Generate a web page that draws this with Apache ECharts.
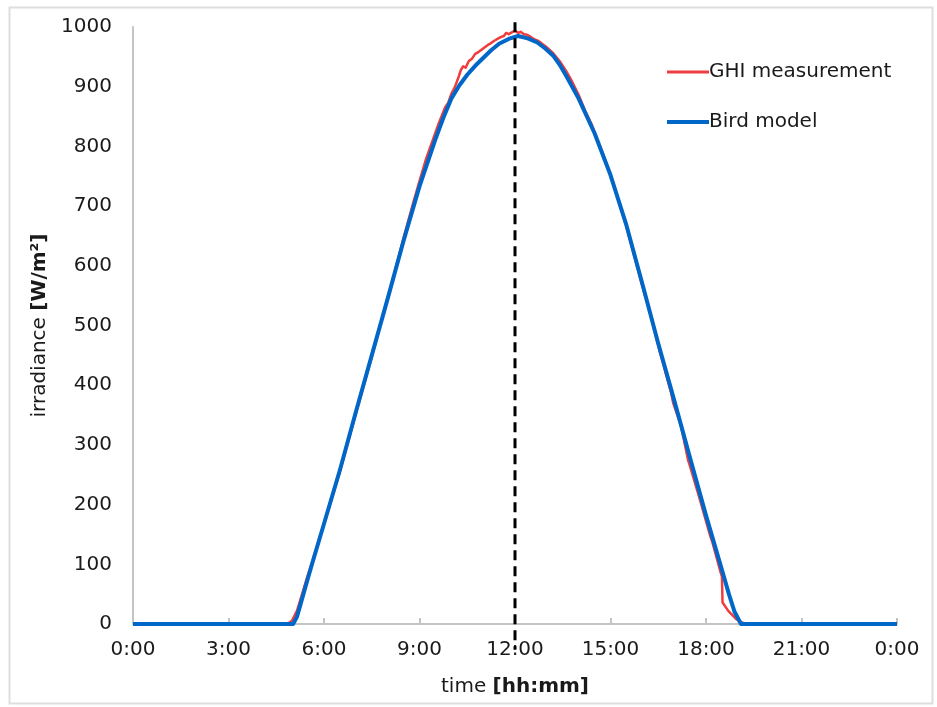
<!DOCTYPE html>
<html>
<head>
<meta charset="utf-8">
<script src="https://cdn.jsdelivr.net/npm/echarts@6/dist/echarts.min.js"></script>
<style>
  html, body { margin: 0; padding: 0; background: #fff; }
  #chart { width: 937px; height: 707px; }
</style>
</head>
<body>
<div id="chart"></div>
<script>
// ---- data (time in hours, irradiance in W/m²) ----
var seriesNames = ['GHI measurement', 'Bird model'];

var birdTime  = [0, 5.03, 5.15, 5.3, 5.47, 5.65, 6.0, 6.5, 7.0, 7.5, 8.0, 8.5, 9.0, 9.5, 9.75, 10.0, 10.25, 10.5, 10.75, 11.0, 11.25, 11.5, 11.8, 12.1, 12.4, 12.7, 12.95, 13.2, 13.4, 13.62, 14.0, 14.5, 15.0, 15.5, 16.0, 16.5, 17.0, 17.5, 18.0, 18.45, 18.72, 18.9, 19.1, 24];
var birdValue = [0, 0,    12,   40,  72,   105,  168, 258, 355, 450, 545, 642, 733, 812, 848,  880,  902,   920,  935,   948,  961,   972,  980,  985,  981,  974,  964,   952,  937,  917,   880,  822,  752,  668,  570,  470,  375,  278,  182,  100,   50,    20,   0,    0];

var ghiTime  = [0, 4.85, 5.0, 5.15, 5.3, 5.47, 5.65, 6.0, 6.5, 7.0, 7.5, 8.0, 8.5, 8.8, 9.0, 9.2, 9.4, 9.6, 9.8, 9.9, 10.0, 10.1, 10.2, 10.3, 10.37, 10.45, 10.55, 10.65, 10.75, 10.85, 10.95, 11.05, 11.15, 11.25, 11.35, 11.45, 11.55, 11.65, 11.72, 11.8, 11.9, 12.0, 12.1, 12.18, 12.28, 12.38, 12.48, 12.58, 12.68, 12.78, 12.9, 13.0, 13.2, 13.4, 13.6, 13.8, 14.0, 14.2, 14.4, 14.6, 14.8, 15.0, 15.5, 16.0, 16.2, 16.25, 16.5, 16.9, 16.97, 17.2, 17.44, 17.5, 17.8, 18.13, 18.2, 18.34, 18.45, 18.5, 18.52, 18.7, 18.95, 19.15, 19.3, 24];
var ghiValue = [0, 0,    6,   22,   48,  78,   108,  168, 255, 352, 448, 545, 647, 705, 742, 778, 808, 838, 865, 873, 888,  898,  912,  928,  934,   932,   943,   947,   955,   958,   962,   966,   970,   973,   977,   980,   983,   985,   990,   988,  991,  994,  990,  992,   988,   987,   984,   980,   978,   975,   970,  966,  956,  943,  927,  908,  886,  860,  838,  810,  782,  752,  666,  566,  530,  520,   466,  388,  370,   335,  274,   264,  210,  148,   137,  110,   88,    80,   36,    22,   8,     2,     0,    0];

var noonTime = [12, 12];
var noonValue = [1008, -43];

var xTicks = { min: 0, max: 24, interval: 3 };
var yTicks = { min: 0, max: 1000, interval: 100 };

function pairs(xs, ys) { return xs.map(function (x, i) { return [x, ys[i]]; }); }

var chart = echarts.init(document.getElementById('chart'));
var font = 'DejaVu Sans, Verdana, sans-serif';
var textColor = '#1a1a1a';
var fs = 20;
var red = '#f03c3c';
var blue = '#0066c8';

function legendFor(name, color, thick, top) {
  return {
    data: [{ name: name, icon: 'rect', itemStyle: { color: color } }],
    orient: 'vertical',
    left: 662,
    top: top,
    itemWidth: 42,
    itemHeight: thick,
    selectedMode: false,
    textStyle: { fontFamily: font, fontSize: fs, color: textColor, padding: [0, 0, 0, -5] }
  };
}

chart.setOption({
  animation: false,
  backgroundColor: '#ffffff',
  graphic: [{
    type: 'rect', left: 7, top: 5, z: -1,
    shape: { width: 923, height: 696 },
    style: { fill: 'none', stroke: '#dedede', lineWidth: 2 }
  }],
  grid: { left: 133, right: 40, top: 27, bottom: 83, containLabel: false },
  legend: [
    legendFor(seriesNames[0], red, 3, 57),
    legendFor(seriesNames[1], blue, 4, 107)
  ],
  xAxis: {
    type: 'value',
    min: xTicks.min, max: xTicks.max, interval: xTicks.interval,
    name: '{n|time }{b|[hh:mm]}',
    nameLocation: 'middle',
    nameGap: 53,
    nameTextStyle: {
      rich: {
        n: { fontFamily: font, fontSize: fs, color: textColor },
        b: { fontFamily: font, fontSize: fs, fontWeight: 'bold', color: textColor }
      }
    },
    axisLine: { show: true, onZero: false, lineStyle: { color: '#c4c4c4', width: 2 } },
    axisTick: { show: true, inside: true, length: 6, lineStyle: { color: '#c4c4c4', width: 2 } },
    axisLabel: {
      margin: 16,
      fontFamily: font, fontSize: fs, color: textColor,
      formatter: function (v) { return (v % 24) + ':00'; }
    },
    splitLine: { show: false }
  },
  yAxis: {
    type: 'value',
    min: yTicks.min, max: yTicks.max, interval: yTicks.interval,
    name: '{n|irradiance }{b|[W/m²]}',
    nameLocation: 'middle',
    nameRotate: 90,
    nameGap: 74,
    nameTextStyle: {
      rich: {
        n: { fontFamily: font, fontSize: fs, color: textColor },
        b: { fontFamily: font, fontSize: fs, fontWeight: 'bold', color: textColor }
      }
    },
    axisLine: { show: true, lineStyle: { color: '#c4c4c4', width: 2 } },
    axisTick: { show: false },
    axisLabel: {
      margin: 21, fontFamily: font, fontSize: fs, color: textColor,
      formatter: function (v) { return String(v); }
    },
    splitLine: { show: false }
  },
  series: [
    {
      name: seriesNames[1],
      type: 'line',
      data: pairs(birdTime, birdValue),
      showSymbol: false, symbol: 'none',
      lineStyle: { color: blue, width: 4, join: 'round' },
      itemStyle: { color: blue },
      z: 3
    },
    {
      name: seriesNames[0],
      type: 'line',
      data: pairs(ghiTime, ghiValue),
      showSymbol: false, symbol: 'none',
      lineStyle: { color: red, width: 2.5, join: 'round' },
      itemStyle: { color: red },
      z: 2
    },
    {
      name: 'noon',
      type: 'line',
      data: pairs(noonTime, noonValue),
      showSymbol: false, symbol: 'none',
      clip: false,
      silent: true,
      lineStyle: { color: '#000000', width: 3, type: [10, 6] },
      z: 4
    }
  ]
});
</script>
</body>
</html>
